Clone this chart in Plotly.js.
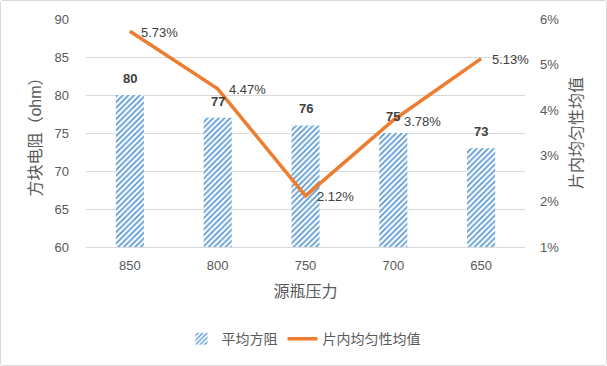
<!DOCTYPE html>
<html><head><meta charset="utf-8">
<script src="https://cdn.plot.ly/plotly-3.0.1.min.js"></script>
<style>
html,body{margin:0;padding:0;background:#fff;}
#chart{width:607px;height:366px;box-sizing:border-box;border:1px solid #d9d9d9;border-radius:3px;overflow:hidden;}
</style></head>
<body><div id="chart"></div>
<script>
const categories = ['850','800','750','700','650'];
const sheetResistance = [80, 77, 76, 75, 73];
const uniformity = [0.0573, 0.0447, 0.0212, 0.0378, 0.0513];
const barName = '平均方阻';
const lineName = '片内均匀性均值';

const FONT = 'Liberation Sans, "Noto Sans CJK SC", sans-serif';
const GRAY = '#595959';

const traces = [
  {
    type: 'bar', x: categories, y: sheetResistance, name: barName,
    width: 0.32,
    marker: {color: '#ffffff', pattern: {shape: '/', fgcolor: '#5B9BD5', bgcolor: '#ffffff', size: 4, solidity: 0.45}, line: {width: 0}}
  },
  {
    type: 'scatter', mode: 'lines', x: categories, y: uniformity, name: lineName,
    yaxis: 'y2',
    line: {color: '#ED7D31', width: 3.5}
  }
];

const annotations = [];
categories.forEach((c, i) => {
  annotations.push({
    x: i, y: sheetResistance[i], xref: 'x', yref: 'y',
    text: '<b>' + sheetResistance[i] + '</b>', showarrow: false,
    yanchor: 'bottom', yshift: 7,
    font: {family: FONT, size: 13, color: '#404040'}
  });
  annotations.push({
    x: i, y: uniformity[i], xref: 'x', yref: 'y2',
    text: (uniformity[i] * 100).toFixed(2) + '%', showarrow: false,
    xanchor: 'left', xshift: 9, yshift: -1,
    font: {family: FONT, size: 13, color: '#404040'}
  });
});

const layout = {
  width: 605, height: 364,
  margin: {l: 85, r: 81, t: 18, b: 118},
  paper_bgcolor: '#ffffff', plot_bgcolor: '#ffffff',
  font: {family: FONT, color: GRAY, size: 13},
  annotations: annotations,
  xaxis: {
    type: 'category', range: [-0.5, categories.length - 0.5], automargin: false,
    showgrid: false, showline: true, linecolor: '#d9d9d9', linewidth: 1,
    ticks: '', ticklabelstandoff: 6, tickfont: {size: 13, color: GRAY},
    title: {text: '源瓶压力', font: {size: 16, color: GRAY}, standoff: 14}
  },
  yaxis: {
    range: [60, 90], dtick: 5, showgrid: true, gridcolor: '#d9d9d9', zeroline: false, automargin: false,
    ticks: '', ticklabelstandoff: 16, tickfont: {size: 13, color: GRAY},
    title: {text: '方块电阻（ohm）', font: {size: 16, color: GRAY}, standoff: 8}
  },
  yaxis2: {
    overlaying: 'y', side: 'right', range: [0.01, 0.06], dtick: 0.01, tickformat: '.0%', automargin: false,
    showgrid: false, zeroline: false, ticks: '', ticklabelstandoff: 14, tickfont: {size: 13, color: GRAY},
    title: {text: '片内均匀性均值', font: {size: 16, color: GRAY}, standoff: 12}
  },
  showlegend: true,
  legend: {orientation: 'h', x: 0.5, xanchor: 'center', xref: 'container', yref: 'container', y: 0.115, yanchor: 'top',
           font: {size: 14, color: GRAY}, itemwidth: 30},
};

Plotly.newPlot('chart', traces, layout, {displayModeBar: false, staticPlot: true});
</script></body></html>
